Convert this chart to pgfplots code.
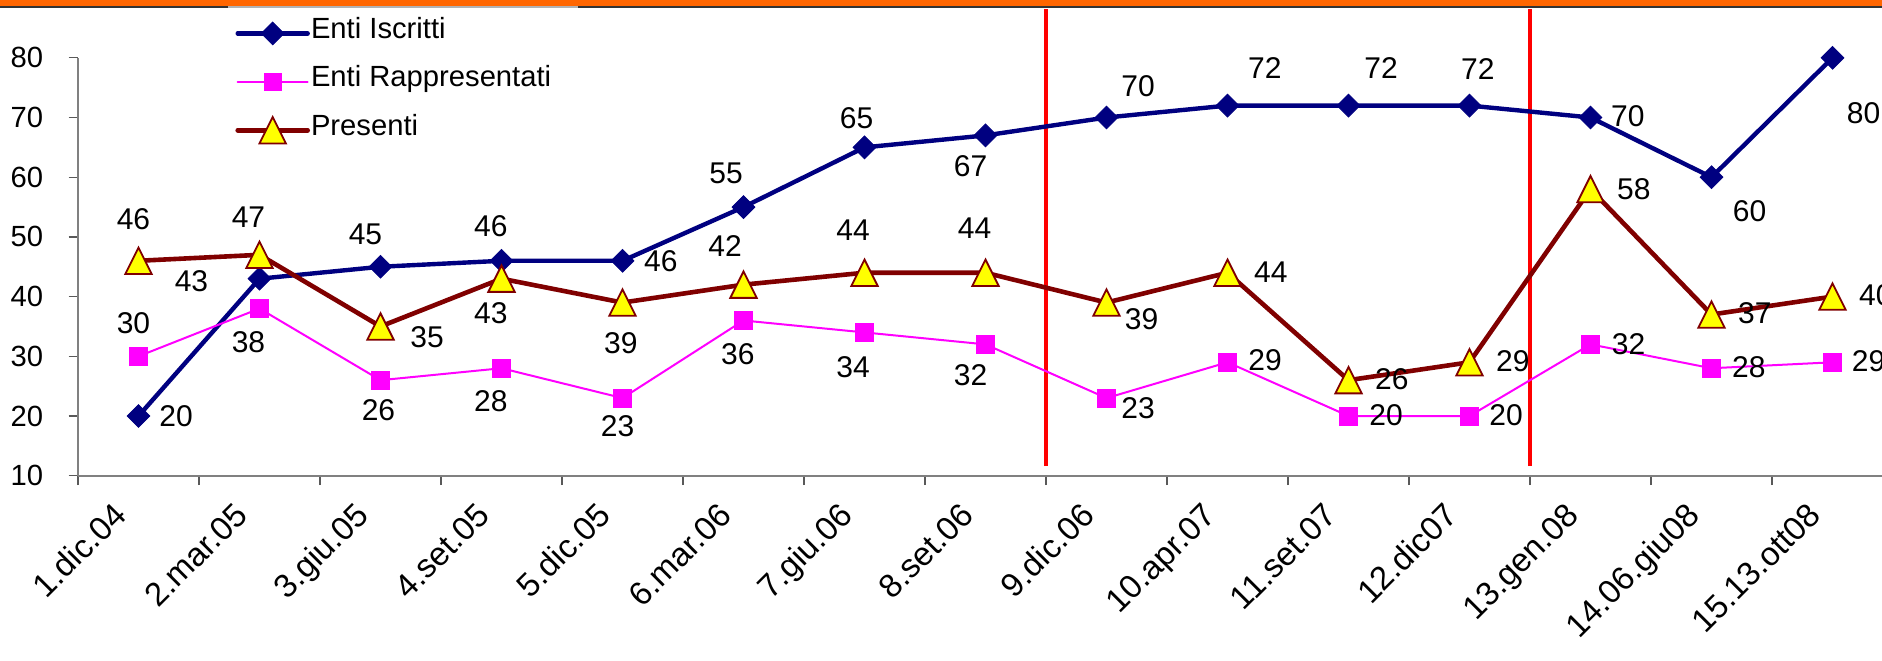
\documentclass[border=0pt]{standalone}
\usepackage{fontspec}
\setmainfont{Liberation Sans}
\usepackage{pgfplots}
\pgfplotsset{compat=1.18}
\usepackage{pgfplotstable}
\definecolor{navyc}{HTML}{000080}
\definecolor{magc}{HTML}{FF00FF}
\definecolor{dredc}{HTML}{800000}
\definecolor{yelc}{HTML}{FFFF00}
\definecolor{orangec}{HTML}{FF6600}
\newcommand{\lblfont}{\fontsize{15}{18}\selectfont}
\newcommand{\tckfont}{\fontsize{14.6}{17}\selectfont}
\newcommand{\xlfont}{\fontsize{16.5}{19}\selectfont}
\pgfdeclareplotmark{xdia}{%
  \pgfpathmoveto{\pgfqpoint{0pt}{\pgfplotmarksize}}%
  \pgfpathlineto{\pgfqpoint{\pgfplotmarksize}{0pt}}%
  \pgfpathlineto{\pgfqpoint{0pt}{-\pgfplotmarksize}}%
  \pgfpathlineto{\pgfqpoint{-\pgfplotmarksize}{0pt}}%
  \pgfpathclose\pgfusepathqfillstroke}
\pgfdeclareplotmark{xtri}{%
  \pgfpathmoveto{\pgfqpoint{0pt}{\pgfplotmarksize}}%
  \pgfpathlineto{\pgfqpoint{\pgfplotmarksize}{-\pgfplotmarksize}}%
  \pgfpathlineto{\pgfqpoint{-\pgfplotmarksize}{-\pgfplotmarksize}}%
  \pgfpathclose\pgfusepathqfillstroke}

% dx, dy: label offset from its point, in pt
\pgfplotstableread{
x y dx dy
0 20 18.8 0
1 43 -34 -1
2 45 -7.5 16
3 46 -5.3 17.2
4 46 19.2 0
5 55 -8.7 16.7
6 65 -4 14.5
7 67 -7.5 -15.5
8 70 15.8 15.7
9 72 18.7 18.7
10 72 16.3 18.7
11 72 4.2 18.2
12 70 18.7 0.7
13 60 19 -17.2
14 80 15.5 -27.7
}\iscritti
\pgfplotstableread{
x y dx dy
0 30 -2.5 16.7
1 38 -5.5 -17
2 26 -1 -15
3 28 -5.3 -16.7
4 23 -2.5 -14
5 36 -2.8 -16.7
6 34 -5.7 -17.3
7 32 -7.5 -15.5
8 23 15.8 -5
9 29 18.8 1
10 20 18.8 0.5
11 20 18.3 0.5
12 32 19 0
13 28 18.7 0.5
14 29 18 0.5
}\rappr
\pgfplotstableread{
x y dx dy
0 46 -2.5 20.7
1 47 -5.5 18.7
2 35 23.3 -5.2
3 43 -5.3 -17.3
4 39 -0.8 -20.5
5 42 -9.2 19.2
6 44 -5.7 21.2
7 44 -5.5 22.2
8 39 17.5 -8.3
9 44 21.7 0.5
10 26 21.7 0.7
11 29 21.7 0.8
12 58 21.7 0
13 37 21.7 0.5
14 40 21.7 0.5
}\presenti

\pgfplotsset{
  lbls/.style={
    draw=none, mark=none, forget plot,
    nodes near coords, point meta=explicit symbolic,
    every node near coord/.append style={anchor=center, inner sep=0pt,
      font=\lblfont, text=black}
  }
}

\begin{document}
\begin{tikzpicture}
\useasboundingbox (0,0) rectangle (941pt,330pt);
\fill[white] (0,0) rectangle (941pt,330pt);
\fill[orangec] (0,327pt) rectangle (941pt,330pt);
\fill[black!80] (0,325.85pt) rectangle (941pt,327pt);
\fill[gray!60] (114pt,325.85pt) rectangle (289pt,327pt);
\begin{axis}[
  at={(39pt,92.15pt)}, anchor=south west,
  scale only axis, width=907.5pt, height=208.95pt,
  xmin=-0.5, xmax=14.5, ymin=10, ymax=80,
  axis x line*=bottom, axis y line*=left,
  axis line style={draw=gray, line width=0.8pt, -},
  ytick={10,20,...,80},
  xtick={0,...,14},
  xticklabels={1.dic.04,2.mar.05,3.giu.05,4.set.05,5.dic.05,6.mar.06,7.giu.06,8.set.06,9.dic.06,10.apr.07,11.set.07,12.dic07,13.gen.08,14.06.giu08,15.13.ott08},
  minor xtick={-0.5,0.5,...,14.5},
  major x tick style={draw=none},
  tick align=outside,
  major tick length=4.7pt, minor tick length=4.7pt,
  every tick/.style={draw=gray!70!black, line width=0.6pt},
  /pgf/number format/assume math mode=true,
  yticklabel style={font=\tckfont, inner sep=0pt, anchor=east, xshift=-12.6pt},
  xticklabel style={font=\xlfont, inner sep=0pt, anchor=base east, xshift=-5pt, yshift=-16pt, rotate=45},
  clip=false,
  legend style={at={(axis description cs:0.0865,1.0976)}, anchor=north west,
    draw=none, fill=none, inner xsep=0pt, inner ysep=0pt,
    font=\tckfont, row sep=8.2pt, column sep=0.5pt,
    nodes={inner sep=0pt, text height=0.75em, text depth=0.25em}},
  legend cell align=left,
  legend image code/.code={
    \path[draw=none, fill=none] (0pt,-8pt) rectangle (35pt,8pt);
    \draw[mark repeat=2, mark phase=2, line cap=round, #1] plot coordinates {(0pt,0pt) (17.5pt,0pt) (35pt,0pt)};
  },
]
\draw[red, line width=1.6pt] (axis cs:7.5,11.6) -- (axis cs:7.5,88.2);
\draw[red, line width=1.6pt] (axis cs:11.5,11.6) -- (axis cs:11.5,88.2);

\addplot[color=navyc, line width=2.2pt, mark=xdia, mark size=5.7pt,
  mark options={solid, fill=navyc, draw=navyc, line width=0.4pt}]
  table[x=x, y=y] {\iscritti};
\addlegendentry{Enti Iscritti}
\addplot[color=magc, line width=1pt, mark=square*, mark size=4.4pt,
  mark options={solid, fill=magc, draw=magc, line width=0.3pt}]
  table[x=x, y=y] {\rappr};
\addlegendentry{Enti Rappresentati}
\addplot[color=dredc, line width=2.3pt, mark=xtri, mark size=6.6pt,
  mark options={solid, fill=yelc, draw=dredc, line width=0.9pt}]
  table[x=x, y=y] {\presenti};
\addlegendentry{Presenti}

% value labels: 1 category = 60.5pt, 1 y unit = 2.985pt
\addplot[lbls] table[x expr=\thisrow{x}+\thisrow{dx}/60.5, y expr=\thisrow{y}+\thisrow{dy}/2.985, meta=y] {\iscritti};
\addplot[lbls] table[x expr=\thisrow{x}+\thisrow{dx}/60.5, y expr=\thisrow{y}+\thisrow{dy}/2.985, meta=y] {\rappr};
\addplot[lbls] table[x expr=\thisrow{x}+\thisrow{dx}/60.5, y expr=\thisrow{y}+\thisrow{dy}/2.985, meta=y] {\presenti};
\end{axis}
\end{tikzpicture}
\end{document}
